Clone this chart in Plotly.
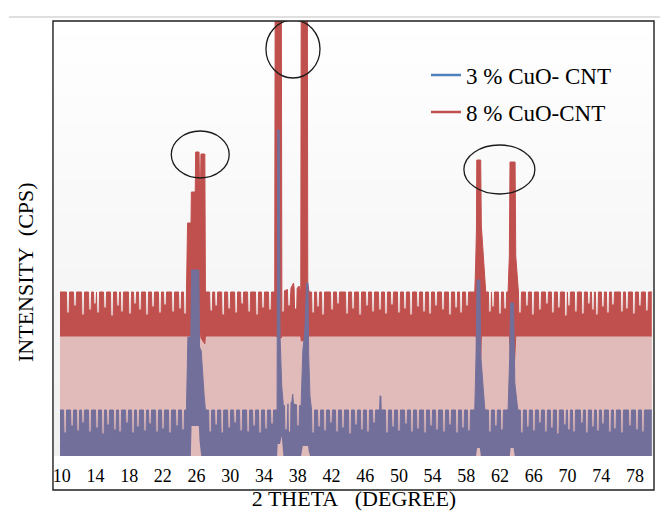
import numpy as np
import plotly.graph_objects as go

# ---------------- data ----------------
# 2-theta (degree) / intensity (arbitrary CPS units, 0 = baseline)
x_tick_vals = list(range(10, 79, 4))

# 8 % CuO-CNT : envelope of the dense signal (upper / lower edge of the trace)
red_x  = [9.80, 24.86, 24.93, 25.34, 25.38, 25.84, 25.89, 26.29, 26.35, 26.47, 26.52, 26.98, 27.05,
          35.27, 35.33, 36.04, 36.10, 37.20, 37.50, 37.62, 38.15, 38.36, 38.42, 39.13, 39.19, 39.35,
          59.00, 59.10, 59.20, 59.24, 59.32, 59.64, 59.70, 59.78, 60.05, 60.30,
          62.95, 63.10, 63.18, 63.28, 63.66, 63.78, 63.86, 64.10, 80.00]
red_hi = [164, 164, 233, 233, 264, 264, 304, 304, 272, 272, 302, 302, 164,
          164, 520, 520, 164, 168, 173, 164, 170, 164, 520, 520, 172, 164,
          164, 190, 228, 296, 296, 296, 296, 230, 195, 164,
          164, 200, 294, 294, 294, 294, 200, 164, 164]
red_lo = [120, 120, 120, 120, 120, 120, 120, 120, 122, 122, 118, 112, 120,
          120, 120, 118, 120, 120, 120, 120, 120, 120, 115, 116, 120, 120,
          120, 120, 118, 95, 76, 76, 95, 120, 120, 120,
          120, 120, 110, 84, 84, 110, 120, 120, 120]
red_dip_x = [10.75, 11.58, 12.53, 13.36, 13.95, 14.31, 15.14, 15.97, 16.68, 17.15, 18.10, 18.70,
             19.29, 20.12, 20.83, 21.66, 22.26, 23.21, 24.04, 24.63,
             27.73, 28.32, 29.15, 29.86, 30.69, 31.40, 32.23, 33.17, 33.88, 34.71,
             36.25, 36.96, 37.75,
             39.82, 40.41, 41.00, 42.07, 42.78, 43.85, 44.56, 45.39, 46.22, 46.93, 47.76, 48.47,
             49.18, 50.01, 50.72, 51.44, 52.27, 52.98, 53.69, 54.40, 55.23, 56.06, 56.78, 57.37, 58.08,
             60.80, 61.16, 61.99, 62.59,
             64.36, 65.19, 65.90, 66.73, 67.56, 68.27, 68.98, 69.81, 70.17, 71.00, 71.83, 72.54,
             73.02, 73.49, 74.20, 74.80, 75.39, 76.46, 77.05, 77.88, 78.59, 79.42]
red_dip_y = [143, 150, 141, 146, 152, 143, 148, 140, 150, 144, 142, 152, 146, 141, 149, 143, 151, 144, 147, 142,
             145, 150, 141, 147, 143, 152, 144, 141, 148, 146,
             144, 150, 147,
             143, 149, 141, 146, 152, 142, 147, 141, 150, 144, 146, 142,
             151, 143, 147, 141, 149, 144, 142, 150, 146, 141, 148, 143, 150,
             144, 149, 142, 147,
             143, 150, 141, 146, 152, 143, 148, 140, 150, 144, 142, 152,
             146, 141, 149, 143, 151, 144, 147, 142, 150, 145]

# 3 % CuO-CNT
blue_x  = [9.80, 24.80, 24.97, 25.32, 25.40, 26.27, 26.35, 26.55, 26.90, 27.05,
           35.55, 35.62, 35.80, 35.90, 36.10, 36.30, 37.30, 37.40, 37.50, 38.40,
           38.60, 38.85, 39.05, 39.22, 39.30, 39.45, 39.60,
           47.72, 47.76, 47.86, 47.90,
           59.00, 59.15, 59.28, 59.60, 59.72, 60.20,
           62.95, 63.15, 63.25, 63.60, 63.75, 64.10, 80.00]
blue_hi = [46, 46, 119, 119, 186, 186, 109, 105, 60, 46,
           46, 326, 326, 120, 70, 50, 54, 62, 52, 50,
           105, 126, 173, 173, 100, 60, 46,
           46, 60, 60, 46,
           46, 100, 176, 176, 99, 46,
           46, 100, 153, 153, 73, 46, 46]
blue_lo = [0, 0, 0, 0, 30, 30, 15, 0, 0, 0,
           0, 12, 12, 12, 20, 0, 0, 0, 0, 0,
           10, 10, 10, 10, 5, 0, 0,
           0, 0, 0, 0,
           0, 0, 8, 8, 0, 0,
           0, 0, 8, 8, 0, 0, 0]
blue_dip_x = [10.40, 11.23, 11.94, 12.53, 13.36, 14.19, 14.90, 15.50, 16.32, 16.92, 17.75, 18.46,
              19.05, 19.88, 20.48, 21.31, 22.02, 22.85, 23.68, 24.39,
              27.61, 28.32, 29.04, 29.86, 30.57, 31.28, 32.11, 32.82, 33.53, 34.24, 34.95,
              36.61, 37.02, 38.03,
              39.82, 40.53, 41.24, 41.94, 42.66, 43.37, 44.20, 44.91, 45.62, 46.33, 47.05, 48.59,
              49.30, 50.01, 50.84, 51.55, 52.27, 53.10, 53.81, 54.52, 55.35, 56.06, 56.89, 57.60, 58.31,
              60.80, 61.51, 62.22,
              64.59, 65.30, 66.02, 66.73, 67.44, 68.15, 68.86, 69.69, 70.17, 70.77, 71.71, 72.30,
              73.02, 73.61, 74.20, 75.03, 75.63, 76.46, 77.41, 78.24, 78.95]
blue_dip_y = [23, 30, 25, 33, 24, 28, 22, 31, 26, 24, 33, 23, 29, 25, 32, 24, 27, 23, 30, 26,
              24, 31, 23, 28, 33, 25, 24, 30, 23, 27, 32,
              26, 24, 30,
              23, 29, 25, 33, 24, 28, 22, 31, 26, 24, 33, 23,
              29, 25, 32, 24, 27, 23, 30, 26, 24, 31, 23, 28, 25,
              24, 30, 26,
              23, 29, 25, 33, 24, 28, 22, 31, 26, 24, 33, 23,
              29, 25, 32, 24, 27, 23, 30, 26, 24]

series_names = ["3 % CuO- CNT", "8 % CuO-CNT"]

# ---------------- helpers ----------------
def envelope(bx, bhi, blo, dx, dy, w=0.26, e=0.05):
    xs = set(bx)
    for x in dx:
        xs.update([x - w / 2 - e, x - w / 2, x + w / 2, x + w / 2 + e])
    xs = np.array(sorted(xs))
    hi = np.interp(xs, bx, bhi)
    lo = np.interp(xs, bx, blo)
    for x, d in zip(dx, dy):
        m = (xs >= x - w / 2 - 1e-9) & (xs <= x + w / 2 + 1e-9)
        hi[m] = np.minimum(hi[m], d)
    return xs, hi, lo

RED = "#C0504D"
PINK = "#E1BABA"
BLUE = "#4F81BD"
PURPLE = "#736F9B"
FONT = "Liberation Serif, Times New Roman, serif"

rx, rhi, rlo = envelope(red_x, red_hi, red_lo, red_dip_x, red_dip_y)
bx, bhi, blo = envelope(blue_x, blue_hi, blue_lo, blue_dip_x, blue_dip_y)

fig = go.Figure()
# 8 % series: area under the trace (pink) and the dense trace band (red)
fig.add_trace(go.Scatter(x=rx, y=rlo, mode="lines", line=dict(color=RED, width=1),
                         fill="tozeroy", fillcolor=PINK, showlegend=False, hoverinfo="skip"))
fig.add_trace(go.Scatter(x=rx, y=rhi, mode="lines", line=dict(color=RED, width=1),
                         fill="tonexty", fillcolor=RED, showlegend=False, hoverinfo="skip"))
# 3 % series
fig.add_trace(go.Scatter(x=bx, y=blo, mode="lines", line=dict(width=0),
                         showlegend=False, hoverinfo="skip"))
fig.add_trace(go.Scatter(x=bx, y=bhi, mode="lines", line=dict(color=PURPLE, width=1),
                         fill="tonexty", fillcolor=PURPLE, showlegend=False, hoverinfo="skip"))
# legend entries
fig.add_trace(go.Scatter(x=[None], y=[None], mode="lines", name=series_names[0],
                         line=dict(color=BLUE, width=2.5), legendgroup="a"))
fig.add_trace(go.Scatter(x=[None], y=[None], mode="lines", name=series_names[1],
                         line=dict(color=RED, width=2.5), legendgroup="b"))

# background gradient of plot area
shapes = []
n = 30
for i in range(n):
    c = int(round(255 - 15 * (i + 0.5) / n))
    shapes.append(dict(type="rect", xref="paper", yref="paper", x0=0, x1=1,
                       y0=1 - (i + 1) / n, y1=1 - i / n, layer="below",
                       line=dict(width=0), fillcolor=f"rgb({c},{c},{c})"))
# ellipses around the peaks
for (x0, x1, y0, y1) in [(23.0, 29.87, 278, 325), (34.23, 40.64, 378, 436), (57.71, 66.13, 262, 311)]:
    shapes.append(dict(type="circle", xref="x", yref="y", x0=x0, x1=x1, y0=y0, y1=y1,
                       line=dict(color="#1a1a1a", width=1.3), layer="above"))
# plot frame and chart top border
shapes.append(dict(type="rect", xref="paper", yref="paper", x0=-0.0017, x1=1.0, y0=-0.078, y1=1.0,
                   line=dict(color="#202020", width=1.4), layer="above"))
shapes.append(dict(type="line", xref="paper", yref="paper", x0=-0.075, x1=1.01, y0=1.0092, y1=1.0092,
                   line=dict(color="#D4D4D4", width=1.5), layer="above"))

fig.update_layout(
    width=660, height=512,
    margin=dict(l=54, r=6, t=21, b=56, autoexpand=False),
    paper_bgcolor="white", plot_bgcolor="rgba(0,0,0,0)",
    font=dict(family=FONT, color="black"),
    shapes=shapes,
    showlegend=True,
    legend=dict(x=0.62, y=0.925, xanchor="left", yanchor="top",
                font=dict(size=23, family=FONT, color="black"), bgcolor="rgba(0,0,0,0)",
                traceorder="grouped", tracegroupgap=4),
    annotations=[dict(text="INTENSITY\u00a0 (CPS)", xref="paper", yref="paper",
                      x=(25 - 54) / 600, y=(456 - 272) / 435, textangle=-90, showarrow=False,
                      font=dict(size=22, family=FONT, color="black"),
                      xanchor="center", yanchor="middle")],
)
fig.update_xaxes(range=[9.087, 80.26], tickvals=x_tick_vals, ticks="", showgrid=False, zeroline=False,
                 showline=False, tickfont=dict(size=18, family=FONT, color="black"),
                 ticklabelstandoff=7,
                 title=dict(text="2 THETA\u00a0\u00a0 (DEGREE)", font=dict(size=22, family=FONT, color="black"),
                            standoff=4))
fig.update_yaxes(range=[0, 435], showticklabels=False, ticks="", showgrid=False, zeroline=False,
                 showline=False)

fig.write_html("out.html")
